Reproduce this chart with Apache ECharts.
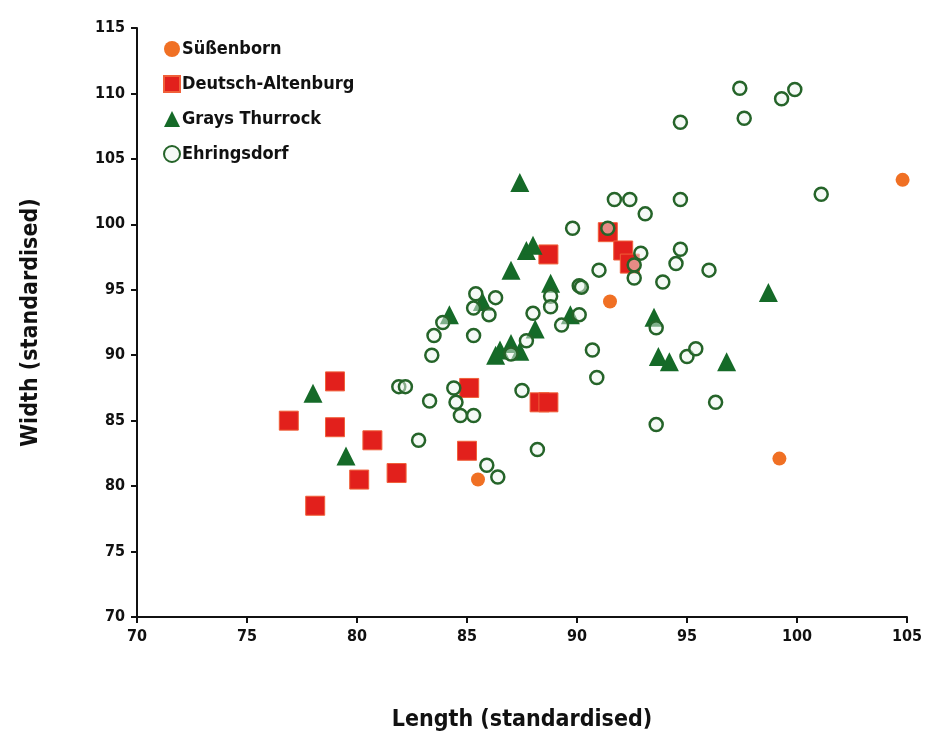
<!DOCTYPE html>
<html>
<head>
<meta charset="utf-8">
<script src="https://cdn.jsdelivr.net/npm/echarts@6/dist/echarts.min.js"></script>
<style>
  html, body { margin: 0; padding: 0; background: #ffffff; }
  #chart { width: 935px; height: 736px; }
</style>
</head>
<body>
<div id="chart"></div>
<script>
// Standardised hand-axe dimensions: [length, width]
const seriesNames = ['Süßenborn', 'Deutsch-Altenburg', 'Grays Thurrock', 'Ehringsdorf'];

const suessenborn = [
  [104.8, 103.4], [91.5, 94.1], [99.2, 82.1], [85.5, 80.5]
];

const deutschAltenburg = [
  [79.0, 88.0], [76.9, 85.0], [79.0, 84.5], [80.7, 83.5], [80.1, 80.5],
  [81.8, 81.0], [78.1, 78.5], [85.1, 87.5], [85.0, 82.7], [88.3, 86.4],
  [88.7, 86.4], [88.7, 97.7], [91.4, 99.4], [92.1, 98.0], [92.4, 97.0]
];

const graysThurrock = [
  [78.0, 87.1], [79.5, 82.3], [87.4, 103.2], [87.7, 98.0], [88.0, 98.4],
  [87.0, 96.5], [88.8, 95.5], [85.7, 94.1], [84.2, 93.1], [89.7, 93.1],
  [88.1, 92.0], [86.3, 90.0], [86.5, 90.4], [87.0, 90.9], [87.4, 90.3],
  [93.5, 92.9], [93.7, 89.9], [94.2, 89.5], [96.8, 89.5], [98.7, 94.8]
];

const ehringsdorf = [
  [94.7, 107.8], [97.4, 110.4], [97.6, 108.1], [99.3, 109.6], [99.9, 110.3],
  [101.1, 102.3], [91.7, 101.9], [92.4, 101.9], [94.7, 101.9], [93.1, 100.8],
  [89.8, 99.7], [91.4, 99.7], [92.9, 97.8], [92.6, 96.9], [91.0, 96.5],
  [92.6, 95.9], [93.9, 95.6], [90.1, 95.3], [90.2, 95.2], [86.3, 94.4],
  [88.8, 94.5], [88.8, 93.7], [88.0, 93.2], [90.1, 93.1], [86.0, 93.1],
  [85.4, 94.7], [85.3, 93.6], [83.9, 92.5], [83.5, 91.5], [83.4, 90.0],
  [85.3, 91.5], [89.3, 92.3], [87.7, 91.1], [87.0, 90.1], [90.7, 90.4],
  [81.9, 87.6], [82.2, 87.6], [84.4, 87.5], [87.5, 87.3], [83.3, 86.5],
  [84.5, 86.4], [84.7, 85.4], [85.3, 85.4], [82.8, 83.5], [88.2, 82.8],
  [85.9, 81.6], [86.4, 80.7], [90.9, 88.3], [94.7, 98.1], [94.5, 97.0],
  [96.0, 96.5], [93.6, 92.1], [95.0, 89.9], [95.4, 90.5], [96.3, 86.4],
  [93.6, 84.7]
];

const xTicks = { min: 70, max: 105, step: 5 };
const yTicks = { min: 70, max: 115, step: 5 };

const FONT = "'Liberation Sans Narrow', 'DejaVu Sans Condensed', 'Roboto Condensed', sans-serif";

const chart = echarts.init(document.getElementById('chart'), null, { renderer: 'canvas' });

const axisCommon = {
  type: 'value',
  splitLine: { show: false },
  axisLine: { show: true, onZero: false, lineStyle: { color: '#111', width: 2 } },
  axisTick: { show: true, inside: false, length: 6, lineStyle: { color: '#111', width: 2 } },
  axisLabel: { color: '#111', fontFamily: FONT, fontWeight: 'bold', fontSize: 16 },
  nameLocation: 'middle',
  nameTextStyle: { color: '#111', fontFamily: FONT, fontWeight: 'bold', fontSize: 23 }
};

chart.setOption({
  backgroundColor: '#ffffff',
  animation: false,
  grid: { left: 137, right: 28, top: 28, bottom: 119, containLabel: false, outerBoundsMode: 'none' },
  legend: {
    orient: 'vertical',
    left: 158,
    top: 35,
    itemGap: 17,
    itemWidth: 16,
    itemHeight: 16,
    textStyle: { color: '#111', fontFamily: FONT, fontWeight: 'bold', fontSize: 18, padding: [0, 0, 0, -3] },
    data: seriesNames
  },
  xAxis: Object.assign({}, axisCommon, {
    min: xTicks.min, max: xTicks.max, interval: xTicks.step,
    name: 'Length (standardised)', nameGap: 92,
    axisLabel: Object.assign({}, axisCommon.axisLabel, { margin: 12 })
  }),
  yAxis: Object.assign({}, axisCommon, {
    min: yTicks.min, max: yTicks.max, interval: yTicks.step,
    name: 'Width (standardised)', nameGap: 94,
    axisLabel: Object.assign({}, axisCommon.axisLabel, { margin: 12 })
  }),
  series: [
    {
      name: seriesNames[0], type: 'scatter', data: suessenborn,
      symbol: 'circle', symbolSize: 14, z: 4,
      itemStyle: { color: '#f07024', opacity: 1 }
    },
    {
      name: seriesNames[1], type: 'scatter', data: deutschAltenburg,
      symbol: 'rect', symbolSize: 19, z: 2,
      itemStyle: { color: '#e2201c', borderColor: '#f0603a', borderWidth: 1, opacity: 1 }
    },
    {
      name: seriesNames[2], type: 'scatter', data: graysThurrock,
      symbol: 'triangle', symbolSize: 19, z: 3,
      itemStyle: { color: '#156a28', opacity: 1 }
    },
    {
      name: seriesNames[3], type: 'scatter', data: ehringsdorf,
      symbol: 'circle', symbolSize: 13, z: 3,
      itemStyle: { color: 'rgba(236,246,238,0.5)', borderColor: '#256429', borderWidth: 2.5, opacity: 1 }
    }
  ]
});
</script>
</body>
</html>
